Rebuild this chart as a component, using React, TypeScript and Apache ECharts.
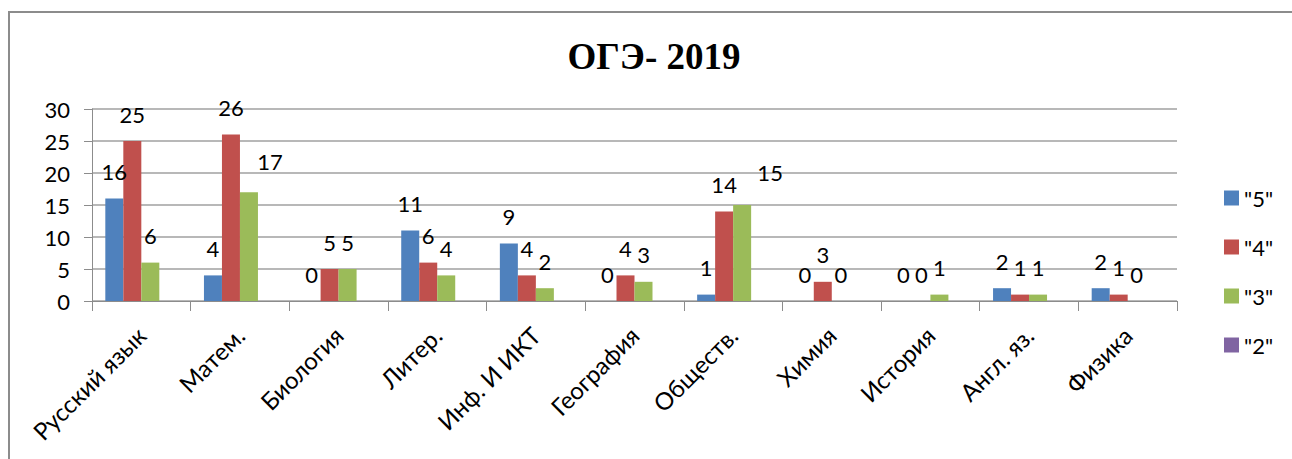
import React, { useEffect, useRef } from "react";
import * as echarts from "echarts";

const categories = [
  "Русский язык",
  "Матем.",
  "Биология",
  "Литер.",
  "Инф. И ИКТ",
  "География",
  "Обществ.",
  "Химия",
  "История",
  "Англ. яз.",
  "Физика",
];
const grade5 = [16, 4, 0, 11, 9, 0, 1, 0, 0, 2, 2];
const grade4 = [25, 26, 5, 6, 4, 4, 14, 3, 0, 1, 1];
const grade3 = [6, 17, 5, 4, 2, 3, 15, 0, 1, 1, 0];
const grade2: (number | null)[] = [null, null, null, null, null, null, null, null, null, null, null];
const seriesNames = ['"5"', '"4"', '"3"', '"2"'];
const colors = ["#4F81BD", "#C0504D", "#9BBB59", "#8064A2"];
const titleText = "ОГЭ- 2019";

const FONT = "Lato";

// label nudges as in the original (series index -> category index -> offset)
const labelNudges: Record<number, Record<number, [number, number]>> = {
  2: { 1: [21, -4], 6: [28, -6] },
};

export default function App() {
  const ref = useRef<HTMLDivElement>(null);
  useEffect(() => {
    if (!ref.current) return;
    const chart = echarts.init(ref.current, undefined, { renderer: "svg" });
    const datasets = [grade5, grade4, grade3, grade2];
    chart.setOption({
      animation: false,
      backgroundColor: "#ffffff",
      graphic: [
        {
          type: "polyline",
          shape: { points: [[9, 470], [9, 12], [1300, 12]] },
          style: { stroke: "#8c8c8c", lineWidth: 2, fill: "none" },
        },
        {
          type: "text",
          x: 654,
          y: 56,
          style: {
            text: titleText,
            font: "bold 37px 'Liberation Serif', 'Times New Roman', serif",
            fill: "#000",
            align: "center",
            verticalAlign: "middle",
          },
        },
      ],
      legend: {
        orient: "vertical",
        left: 1219,
        top: 182,
        itemWidth: 15,
        itemHeight: 15,
        itemGap: 27,
        icon: "rect",
        data: seriesNames,
        textStyle: { fontFamily: FONT, fontSize: 22, color: "#000" },
      },
      grid: { left: 92, right: 115, top: 109, bottom: 158, containLabel: false },
      xAxis: {
        type: "category",
        data: categories,
        axisLine: { lineStyle: { color: "#8c8c8c", width: 1 } },
        axisTick: { show: true, length: 10, lineStyle: { color: "#8c8c8c" }, alignWithLabel: false },
        axisLabel: {
          rotate: 45,
          interval: 0,
          fontFamily: FONT,
          fontSize: 24,
          color: "#000",
          margin: 30,
        },
      },
      yAxis: {
        type: "value",
        min: 0,
        max: 30,
        interval: 5,
        axisLine: { show: true, lineStyle: { color: "#8c8c8c", width: 1 } },
        axisTick: { show: true, length: 8, lineStyle: { color: "#8c8c8c" } },
        splitLine: { lineStyle: { color: "#a0a0a0", width: 1.5 } },
        axisLabel: { fontFamily: FONT, fontSize: 22, color: "#000", margin: 22 },
      },
      series: datasets.map((d, i) => ({
        name: seriesNames[i],
        type: "bar",
        data: d.map((v, j) => {
          const nudge = labelNudges[i] && labelNudges[i][j];
          return nudge ? { value: v, label: { offset: nudge } } : v;
        }),
        barGap: "0%",
        barCategoryGap: "27%",
        itemStyle: { color: colors[i] },
        label: {
          show: true,
          position: "top",
          distance: 16,
          fontFamily: FONT,
          fontSize: 22,
          color: "#000",
        },
      })),
    });
    return () => chart.dispose();
  }, []);
  return (
    <div
      ref={ref}
      style={{ position: "fixed", left: 0, top: 0, width: 1292, height: 459 }}
    />
  );
}
